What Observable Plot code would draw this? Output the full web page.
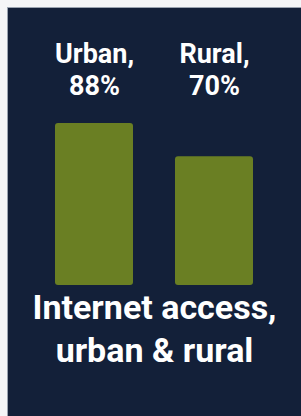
<!DOCTYPE html>
<html>
<head>
<meta charset="utf-8">
<script src="https://cdn.jsdelivr.net/npm/d3@7"></script>
<script src="https://cdn.jsdelivr.net/npm/@observablehq/plot@0.6"></script>
<style>
  html, body { margin: 0; padding: 0; background: #f4f5f7; }
  body { padding: 7px 0 0 7px; overflow: hidden; }
  #card { width: 294px; height: 409px; background: #132039; border-left: 1px solid #9aa3b0; border-top: 1px solid #9aa3b0; box-sizing: border-box; font-family: Roboto, "Open Sans", sans-serif; }
  #title { color: #ffffff; font-weight: 700; font-size: 34px; line-height: 43px; text-align: center; margin-top: -2px; }
</style>
</head>
<body>
<div id="card"></div>
<script>
const categories = ["Urban", "Rural"];
const values = [88, 70];
const titleLines = ["Internet access,", "urban & rural"];

const data = categories.map((c, i) => ({category: c, value: values[i]}));

const chart = Plot.plot({
  width: 293,
  height: 280,
  marginLeft: 46,
  marginRight: 48,
  marginTop: 93,
  marginBottom: 3,
  style: {background: "transparent", fontFamily: "Roboto, sans-serif"},
  x: {domain: categories, paddingInner: 0.353, paddingOuter: 0, axis: null},
  y: {domain: [0, 100], axis: null},
  marks: [
    Plot.barY(data, {x: "category", y: "value", fill: "#6a7f23", rx: 3}),
    Plot.text(data, {
      x: "category",
      text: d => `${d.category},\n${d.value}%`,
      frameAnchor: "top",
      lineAnchor: "bottom",
      dy: -7,
      lineHeight: 1.18,
      fill: "#ffffff",
      fontSize: 27,
      fontWeight: 700
    })
  ]
});
const card = document.getElementById("card");
card.appendChild(chart);
const t = document.createElement("div");
t.id = "title";
t.innerHTML = titleLines.join("<br>");
card.appendChild(t);
</script>
</body>
</html>
